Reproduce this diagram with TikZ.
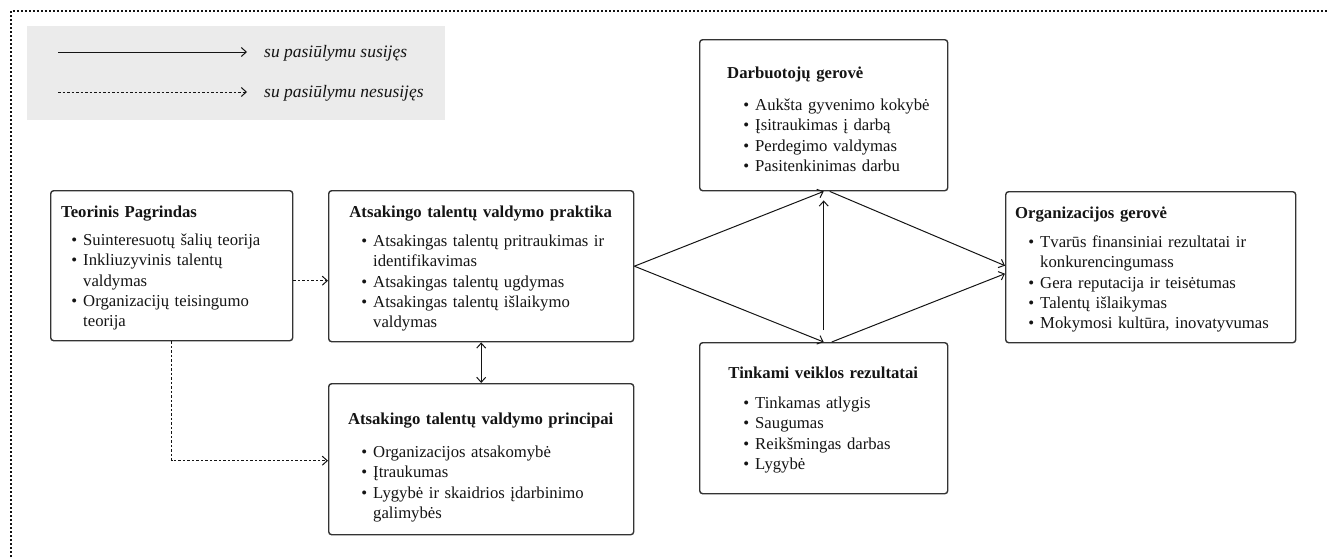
\documentclass[tikz,border=0pt]{standalone}
\usepackage{fontspec}
\setmainfont{Liberation Serif}
\usetikzlibrary{arrows.meta,calc}

\definecolor{boxline}{HTML}{333333}
\definecolor{ink}{HTML}{141414}
\definecolor{legendbg}{HTML}{EBEBEB}

% bullet lists inside the boxes
\newlength\bulletindent
\newcommand\bitem[1]{{\leftskip=\bulletindent\relax\noindent\llap{\textbullet\hspace{6pt}}#1\par}}
\newcommand\ctitle[2]{\noindent\makebox[#1][c]{\bfseries#2\strut}\par}
\newcommand\ltitle[2]{\noindent\hspace*{#1}{\bfseries#2}\strut\par}

\tikzset{
  box/.style={draw=boxline, line width=1.4pt, rounded corners=3pt, anchor=north west, inner sep=0pt},
  boxtext/.style={anchor=north west, inner sep=0pt, text=ink, font=\fontsize{16.7}{20.2}\selectfont},
  tip/.tip={Straight Barb[length=5pt,width=9pt]},
  link/.style={draw=ink, line width=1pt, -tip},
  duallink/.style={draw=ink, line width=1pt, tip-tip},
  dashlink/.style={link, dash pattern=on 2.5pt off 2pt},
  legendtext/.style={anchor=base west, inner sep=0pt, text=ink, font=\fontsize{17.5}{20}\selectfont\itshape},
  frameline/.style={draw=ink, line width=2pt, dash pattern=on 2pt off 2pt}
}

\begin{document}
\begin{tikzpicture}[x=1pt, y=-1pt]
\useasboundingbox (0,0) rectangle (1329,557);

% outer frame
\draw[frameline] (11,557) -- (11,11) -- (1329,11);

% legend
\fill[legendbg] (27,26) rectangle (445,120);
\coordinate (la) at (58,52);
\coordinate (lb) at (247,52);
\coordinate (lc) at (58,92);
\coordinate (ld) at (247,92);
\draw[link] (la) -- (lb);
\draw[dashlink] (lc) -- (ld);
\node[legendtext] (lt1) at (264,57) {su pasiūlymu susijęs};
\node[legendtext] (lt2) at (264,97) {su pasiūlymu nesusijęs};

% boxes
\node[box, minimum width=242pt, minimum height=150pt] (teo) at (50,190) {};
\node[box, minimum width=305pt, minimum height=151pt] (pr) at (328,190) {};
\node[box, minimum width=305pt, minimum height=151pt] (pp) at (328,383) {};
\node[box, minimum width=248pt, minimum height=151pt] (dw) at (699,39) {};
\node[box, minimum width=248pt, minimum height=151pt] (tk) at (699,342) {};
\node[box, minimum width=290pt, minimum height=151pt] (og) at (1005,191) {};

% box contents
\node[boxtext, text width=280pt] (teoT) at (50,203.4) {%
  \setlength\bulletindent{33pt}%
  \ltitle{11pt}{Teorinis Pagrindas}\vspace{7.8pt}%
  \bitem{Suinteresuotų šalių teorija}%
  \bitem{Inkliuzyvinis talentų\\valdymas}%
  \bitem{Organizacijų teisingumo\\teorija}};

\node[boxtext, text width=340pt] (prT) at (328,203.4) {%
  \setlength\bulletindent{45pt}%
  \ctitle{305pt}{Atsakingo talentų valdymo praktika}\vspace{8.8pt}%
  \bitem{Atsakingas talentų pritraukimas ir\\identifikavimas}%
  \bitem{Atsakingas talentų ugdymas}%
  \bitem{Atsakingas talentų išlaikymo\\valdymas}};

\node[boxtext, text width=340pt] (ppT) at (328,410.4) {%
  \setlength\bulletindent{45pt}%
  \ctitle{305pt}{Atsakingo talentų valdymo principai}\vspace{12.8pt}%
  \bitem{Organizacijos atsakomybė}%
  \bitem{Įtraukumas}%
  \bitem{Lygybė ir skaidrios įdarbinimo\\galimybės}};

\node[boxtext, text width=280pt] (dwT) at (699,64.4) {%
  \setlength\bulletindent{56pt}%
  \ltitle{28pt}{Darbuotojų gerovė}\vspace{11.8pt}%
  \bitem{Aukšta gyvenimo kokybė}%
  \bitem{Įsitraukimas į darbą}%
  \bitem{Perdegimo valdymas}%
  \bitem{Pasitenkinimas darbu}};

\node[boxtext, text width=280pt] (tkT) at (699,364.4) {%
  \setlength\bulletindent{56pt}%
  \ctitle{248pt}{Tinkami veiklos rezultatai}\vspace{9.8pt}%
  \bitem{Tinkamas atlygis}%
  \bitem{Saugumas}%
  \bitem{Reikšmingas darbas}%
  \bitem{Lygybė}};

\node[boxtext, text width=300pt] (ogT) at (1005,204.4) {%
  \setlength\bulletindent{35pt}%
  \ltitle{10pt}{Organizacijos gerovė}\vspace{8.8pt}%
  \bitem{Tvarūs finansiniai rezultatai ir\\konkurencingumass}%
  \bitem{Gera reputacija ir teisėtumas}%
  \bitem{Talentų išlaikymas}%
  \bitem{Mokymosi kultūra, inovatyvumas}};

% connectors
\draw[dashlink] ([yshift=-15pt]teo.east) -- ([yshift=-15pt]teo.east -| pr.west);
\draw[dashlink] (teo.south) |- ([yshift=-1.5pt]pp.west);
\draw[duallink] (pr.south) -- (pp.north);
\draw[link] (pr.east) -- (dw.south);
\draw[link] (pr.east) -- (tk.north);
\draw[link] ([xshift=6pt]dw.south) -- ([yshift=1.5pt]og.west);
\draw[link] ([xshift=8pt]tk.north) -- ([yshift=-6.5pt]og.west);
\draw[link] ([yshift=12pt]tk.north) -- ([yshift=-9pt]dw.south);
\end{tikzpicture}
\end{document}
